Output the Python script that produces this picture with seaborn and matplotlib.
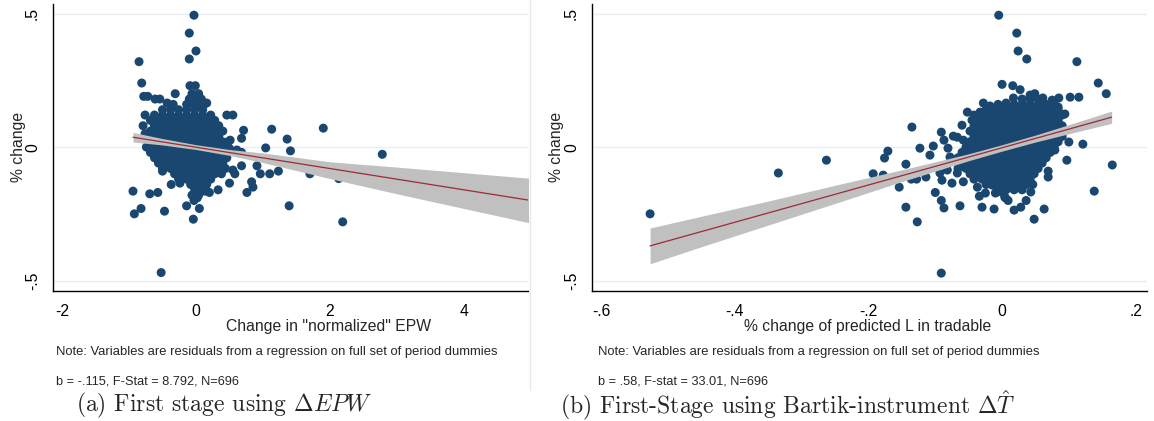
import numpy as np
import pandas as pd
import matplotlib
matplotlib.use('Agg')
import matplotlib.pyplot as plt
from matplotlib.lines import Line2D
import seaborn as sns

# -------------------------------
# visual config (Stata s2color look)
# -------------------------------
sns.set_style('white')
plt.rcParams['font.family'] = ['Liberation Sans', 'DejaVu Sans']
plt.rcParams['mathtext.fontset'] = 'cm'

NAVY = '#1a476f'
MAROON = '#9e2a35'
BAND = '#c0c0c0'
GRID = '#e8eff1'

# -------------------------------
# panel (a): change in "normalized" EPW
# -------------------------------
epw_scatter = [
    (-0.03, 0.494), (-0.10, 0.427), (0.00, 0.360), (-0.10, 0.330), (-0.85, 0.320),
    (-0.81, 0.240), (-0.09, 0.230), (-0.01, 0.230), (-0.31, 0.200), (-0.78, 0.190),
    (-0.72, 0.190), (-0.61, 0.180), (-0.54, 0.180), (-0.43, 0.165), (-0.34, 0.160),
    (0.16, 0.165), (-0.76, 0.120), (0.46, 0.120), (0.55, 0.120), (-0.79, 0.080),
    (-0.76, 0.050), (0.71, 0.063), (0.26, 0.095), (1.13, 0.067), (0.68, 0.033),
    (1.36, 0.030), (0.51, 0.026), (1.04, -0.003), (1.41, -0.014), (0.50, -0.005),
    (0.68, -0.020), (0.91, -0.070), (0.68, -0.070), (0.55, -0.086), (0.58, -0.100),
    (0.96, -0.100), (1.10, -0.100), (1.23, -0.090), (0.83, -0.130), (0.85, -0.150),
    (0.76, -0.170), (0.50, -0.135), (0.33, -0.160), (0.20, -0.170), (0.13, -0.165),
    (-0.37, -0.140), (-0.24, -0.135), (-0.50, -0.090), (-0.94, -0.165), (-0.69, -0.175),
    (-0.57, -0.170), (-0.92, -0.250), (-0.82, -0.230), (-0.47, -0.240), (-0.14, -0.220),
    (-0.03, -0.200), (0.02, -0.190), (0.05, -0.230), (-0.04, -0.270), (-0.52, -0.470),
    (1.39, -0.220), (1.90, 0.071), (2.78, -0.027), (1.70, -0.100), (2.13, -0.118),
    (2.19, -0.280), (0.48, 0.020), (0.61, -0.011),
]
epw_core_rows = [
    (0.20, [-0.06, 0.04]),
    (0.18, [-0.10, 0.00, 0.08]),
    (0.16, [-0.14, -0.04, 0.06, 0.12]),
    (0.14, [-0.50, -0.38, -0.26, -0.14, -0.02, 0.10]),
    (0.12, [-0.62, -0.50, -0.38, -0.26, -0.14, -0.02, 0.10, 0.22]),
    (0.10, [-0.68, -0.56, -0.44, -0.32, -0.20, -0.08, 0.04, 0.16, 0.28]),
    (0.08, [-0.62, -0.50, -0.38, -0.26, -0.14, -0.02, 0.10, 0.22, 0.34]),
    (0.06, [-0.68, -0.56, -0.44, -0.32, -0.20, -0.08, 0.04, 0.16, 0.28, 0.40]),
    (0.04, [-0.74, -0.62, -0.50, -0.38, -0.26, -0.14, -0.02, 0.10, 0.22, 0.34]),
    (0.02, [-0.68, -0.56, -0.44, -0.32, -0.20, -0.08, 0.04, 0.16, 0.28, 0.40]),
    (0.00, [-0.74, -0.62, -0.50, -0.38, -0.26, -0.14, -0.02, 0.10, 0.22, 0.34, 0.44]),
    (-0.02, [-0.68, -0.56, -0.44, -0.32, -0.20, -0.08, 0.04, 0.16, 0.28, 0.40]),
    (-0.04, [-0.62, -0.50, -0.38, -0.26, -0.14, -0.02, 0.10, 0.22, 0.34, 0.46]),
    (-0.06, [-0.56, -0.44, -0.32, -0.20, -0.08, 0.04, 0.16, 0.28, 0.40]),
    (-0.08, [-0.50, -0.38, -0.26, -0.14, -0.02, 0.10, 0.22, 0.34, 0.44]),
    (-0.10, [-0.32, -0.20, -0.08, 0.04, 0.16, 0.28, 0.38]),
    (-0.12, [-0.26, -0.14, -0.02, 0.10, 0.22]),
    (-0.14, [-0.08, 0.04, 0.16]),
    (-0.16, [-0.02, 0.08]),
    (-0.18, [-0.06, 0.04]),
]
epw_fit_x = [-0.94, 5.0]
epw_fit_y = [0.037, -0.200]
epw_ci_x = [-0.94, -0.5, 0.0, 0.5, 1.0, 2.0, 3.0, 4.0, 5.0]
epw_ci_lo = [0.019, 0.008, -0.009, -0.031, -0.058, -0.118, -0.175, -0.230, -0.285]
epw_ci_hi = [0.055, 0.032, 0.009, -0.009, -0.022, -0.055, -0.075, -0.096, -0.117]
epw_xticks = [-2, 0, 2, 4]
epw_xticklabels = ['-2', '0', '2', '4']

# -------------------------------
# panel (b): Bartik instrument
# -------------------------------
bartik_scatter = [
    (-0.005, 0.494), (0.022, 0.427), (0.024, 0.360), (0.037, 0.330), (0.112, 0.320),
    (0.144, 0.240), (0.156, 0.200), (0.000, 0.235), (0.016, 0.230), (0.027, 0.215),
    (0.115, 0.187), (0.102, 0.187), (0.085, 0.184), (0.075, 0.176), (0.061, 0.184),
    (0.049, 0.200), (0.042, 0.195), (0.017, 0.184), (-0.028, 0.165), (0.006, 0.165),
    (-0.018, 0.154), (-0.052, 0.131), (0.084, 0.150), (0.094, 0.124), (-0.135, 0.075),
    (-0.091, 0.056), (-0.073, 0.041), (-0.067, 0.037), (-0.103, 0.004), (-0.123, -0.004),
    (-0.108, -0.030), (-0.171, -0.015), (-0.176, -0.041), (-0.144, -0.064), (-0.193, -0.100),
    (-0.178, -0.105), (-0.154, -0.150), (-0.136, -0.120), (-0.128, -0.120), (-0.114, -0.112),
    (-0.144, -0.225), (-0.127, -0.280), (-0.100, -0.170), (-0.091, -0.200), (-0.087, -0.228),
    (-0.063, -0.220), (-0.090, -0.124), (-0.075, -0.135), (-0.058, -0.130), (-0.030, -0.225),
    (-0.012, -0.232), (0.003, -0.160), (0.009, -0.200), (0.005, -0.190), (-0.009, -0.170),
    (0.018, -0.236), (0.028, -0.225), (0.036, -0.200), (0.043, -0.168), (0.046, -0.140),
    (0.063, -0.232), (0.048, -0.270), (0.069, -0.112), (0.069, -0.090), (0.097, -0.049),
    (0.100, 0.019), (0.121, 0.011), (0.165, -0.067), (0.138, -0.165), (-0.091, -0.472),
    (0.079, -0.011), (0.066, -0.023), (-0.527, -0.250), (-0.335, -0.097), (-0.263, -0.049),
    (-0.087, 0.026), (-0.081, -0.004), (-0.058, 0.026), (-0.060, 0.082), (-0.045, 0.101),
    (-0.033, 0.131), (-0.034, -0.184), (-0.025, -0.172), (-0.010, -0.172), (0.000, -0.169),
    (0.004, -0.187), (-0.037, -0.150), (-0.015, -0.142), (0.016, -0.146), (0.022, -0.142),
    (-0.093, -0.097), (-0.078, -0.037), (-0.063, -0.049), (-0.055, -0.075), (-0.082, -0.086),
    (-0.067, -0.097),
]
bartik_core_rows = [
    (0.18, [0.030, 0.042, 0.054]),
    (0.16, [-0.006, 0.006, 0.018, 0.030, 0.042, 0.054, 0.066, 0.078]),
    (0.14, [-0.024, -0.012, 0.000, 0.012, 0.024, 0.036, 0.048, 0.060, 0.072, 0.084]),
    (0.12, [-0.042, -0.030, -0.018, -0.006, 0.006, 0.018, 0.030, 0.042, 0.054, 0.066, 0.078, 0.090]),
    (0.10, [-0.036, -0.024, -0.012, 0.000, 0.012, 0.024, 0.036, 0.048, 0.060, 0.072, 0.084]),
    (0.08, [-0.042, -0.030, -0.018, -0.006, 0.006, 0.018, 0.030, 0.042, 0.054, 0.066, 0.078, 0.090]),
    (0.06, [-0.048, -0.036, -0.024, -0.012, 0.000, 0.012, 0.024, 0.036, 0.048, 0.060, 0.072, 0.084]),
    (0.04, [-0.042, -0.030, -0.018, -0.006, 0.006, 0.018, 0.030, 0.042, 0.054, 0.066, 0.078, 0.090]),
    (0.02, [-0.048, -0.036, -0.024, -0.012, 0.000, 0.012, 0.024, 0.036, 0.048, 0.060, 0.072, 0.084]),
    (0.00, [-0.054, -0.042, -0.030, -0.018, -0.006, 0.006, 0.018, 0.030, 0.042, 0.054, 0.066, 0.078]),
    (-0.02, [-0.060, -0.048, -0.036, -0.024, -0.012, 0.000, 0.012, 0.024, 0.036, 0.048, 0.060, 0.072]),
    (-0.04, [-0.066, -0.054, -0.042, -0.030, -0.018, -0.006, 0.006, 0.018, 0.030, 0.042, 0.054, 0.066]),
    (-0.06, [-0.060, -0.048, -0.036, -0.024, -0.012, 0.000, 0.012, 0.024, 0.036, 0.048, 0.060]),
    (-0.08, [-0.066, -0.054, -0.042, -0.030, -0.018, -0.006, 0.006, 0.018, 0.030, 0.042, 0.054]),
    (-0.10, [-0.048, -0.036, -0.024, -0.012, 0.000, 0.012, 0.024, 0.036, 0.048]),
    (-0.12, [-0.042, -0.030, -0.018, -0.006, 0.006, 0.018, 0.030, 0.042]),
    (-0.14, [-0.024, -0.012, 0.000, 0.012, 0.024, 0.036]),
    (-0.16, [-0.006, 0.006, 0.018, 0.030]),
]
bartik_fit_x = [-0.527, 0.164]
bartik_fit_y = [-0.370, 0.112]
bartik_ci_x = [-0.527, -0.45, -0.35, -0.25, -0.15, -0.05, 0.0, 0.05, 0.10, 0.164]
bartik_ci_lo = [-0.437, -0.373, -0.292, -0.211, -0.129, -0.051, -0.015, 0.019, 0.050, 0.089]
bartik_ci_hi = [-0.303, -0.259, -0.202, -0.143, -0.085, -0.025, 0.009, 0.045, 0.084, 0.135]
bartik_xticks = [-0.6, -0.4, -0.2, 0.0, 0.2]
bartik_xticklabels = ['-.6', '-.4', '-.2', '0', '.2']

yticks = [-0.5, 0.0, 0.5]
yticklabels = ['-.5', '0', '.5']


def to_frame(scatter, core_rows):
    pts = list(scatter)
    for y, xs in core_rows:
        pts += [(x, y) for x in xs]
    return pd.DataFrame(pts, columns=['x', 'y'])


def draw_panel(ax, df, fit_x, fit_y, ci_x, ci_lo, ci_hi, xlim, xticks, xticklabels):
    for v in yticks:
        ax.axhline(v, color=GRID, lw=1.0, zorder=0)
    sns.scatterplot(data=df, x='x', y='y', ax=ax, s=42, color=NAVY,
                    edgecolor='none', linewidth=0, zorder=2)
    ax.fill_between(ci_x, ci_lo, ci_hi, color=BAND, lw=0, zorder=3)
    sns.lineplot(x=fit_x, y=fit_y, ax=ax, color=MAROON, lw=0.9, zorder=4)

    ax.set_xlim(xlim)
    ax.set_ylim(-0.539, 0.536)
    ax.set_xticks(xticks, xticklabels)
    ax.set_yticks(yticks, yticklabels)
    ax.set_xlabel('')
    ax.set_ylabel('')
    for side in ['top', 'right']:
        ax.spines[side].set_visible(False)
    for side in ['left', 'bottom']:
        ax.spines[side].set_color('black')
        ax.spines[side].set_linewidth(1.0)
    ax.tick_params(direction='out', length=4.3, width=0.9, color='#707070',
                   labelsize=11.3, pad=5.0, labelcolor='black')
    ax.tick_params(axis='y', labelrotation=90)
    for lab in ax.get_yticklabels():
        lab.set_va('center')


W, H = 1154, 421
fig = plt.figure(figsize=(W / 100, H / 100), dpi=100)
ax_a = fig.add_axes([53 / W, 1 - 291 / H, 475 / W, 287 / H])
ax_b = fig.add_axes([592 / W, 1 - 291 / H, 555 / W, 287 / H])

draw_panel(ax_a, to_frame(epw_scatter, epw_core_rows), epw_fit_x, epw_fit_y,
           epw_ci_x, epw_ci_lo, epw_ci_hi, (-2.134, 4.955), epw_xticks, epw_xticklabels)
draw_panel(ax_b, to_frame(bartik_scatter, bartik_core_rows), bartik_fit_x, bartik_fit_y,
           bartik_ci_x, bartik_ci_lo, bartik_ci_hi, (-0.614, 0.217), bartik_xticks, bartik_xticklabels)

# axis titles and notes (placed in figure pixels)
def ftext(px, py, s, **kw):
    fig.text(px / W, 1 - py / H, s, **kw)

ftext(18, 147, '% change', rotation=90, ha='center', va='center', fontsize=11.3)
ftext(557, 147, '% change', rotation=90, ha='center', va='center', fontsize=11.3)
ftext(329, 327, 'Change in "normalized" EPW', ha='center', va='center', fontsize=11.3)
ftext(868, 327, '% change of predicted L in tradable', ha='center', va='center', fontsize=11.3)

note = 'Note: Variables are residuals from a regression on full set of period dummies'
ftext(56, 352, note, ha='left', va='center', fontsize=9.4)
ftext(598, 352, note, ha='left', va='center', fontsize=9.4)
ftext(56, 381, 'b = -.115, F-Stat = 8.792, N=696', ha='left', va='center', fontsize=9.2)
ftext(598, 381, 'b = .58, F-stat = 33.01, N=696', ha='left', va='center', fontsize=9.2)

ftext(76, 405, r'(a) First stage using $\Delta EPW$', ha='left', va='center',
      fontsize=17, family='cmr10')
ftext(560, 405, r'(b) First-Stage using Bartik-instrument $\Delta\hat{T}$', ha='left',
      va='center', fontsize=17, family='cmr10')

# faint border of the left graph image
fig.add_artist(Line2D([530 / W, 530 / W], [1, 1 - 390 / H], color='#e4eaec', lw=1.0))

fig.savefig('out.png', dpi=100, facecolor='white')
